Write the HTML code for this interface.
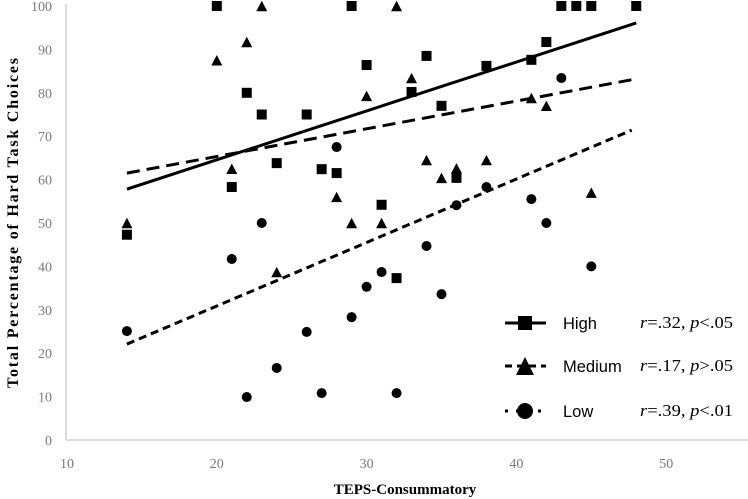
<!DOCTYPE html>
<html><head><meta charset="utf-8"><style>
html,body{margin:0;padding:0;background:#fff;}
svg{display:block;}
</style></head><body>
<svg id="chart" width="748" height="499" xmlns="http://www.w3.org/2000/svg"></svg>
<script>
const xTicks = [10, 20, 30, 40, 50];
const yTicks = [0, 10, 20, 30, 40, 50, 60, 70, 80, 90, 100];
const highX = [14,20,21,22,23,24,26,27,28,29,30,31,32,33,34,35,36,38,41,42,43,44,45,48];
const highY = [47.3,100,58.3,80,75,63.8,75,62.4,61.5,100,86.4,54.2,37.3,80.2,88.5,77,60.4,86.2,87.6,91.7,100,100,100,100];
const medX = [14,20,21,22,23,24,28,29,30,31,32,33,34,35,36,38,41,42,45];
const medY = [50,87.5,62.5,91.7,100,38.7,56,50,79.3,50,100,83.4,64.5,60.4,62.6,64.5,78.8,77,57];
const lowX = [14,21,22,23,24,26,27,28,29,30,31,32,34,35,36,38,41,42,43,45];
const lowY = [25.1,41.7,9.9,50,16.6,24.9,10.8,67.5,28.3,35.3,38.7,10.8,44.7,33.6,54.1,58.3,55.5,50,83.4,40];
const trendX = [14, 48];
const highTrend = [57.8, 96.1];
const medTrend = [61.5, 83.2];
const lowTrend = [22.1, 71.4];

const NS = "http://www.w3.org/2000/svg";
const svg = document.getElementById('chart');
function sx(v){ return 67 + (v - 10) * 14.98; }
function sy(v){ return 440 - v * 4.34; }
function mk(tag, attrs, parent){
  const e = document.createElementNS(NS, tag);
  for (const k in attrs) e.setAttribute(k, attrs[k]);
  (parent || svg).appendChild(e);
  return e;
}
let ax = mk('line', {x1:66, y1:4, x2:66, y2:440, stroke:'#d0d0d0', 'stroke-width':1.5});


ax = mk('line', {x1:66, y1:440, x2:748, y2:440, stroke:'#d0d0d0', 'stroke-width':1.5});


yTicks.forEach(v => {
  const t = mk('text', {x:52, y:sy(v)+5, 'text-anchor':'end', 'font-family':'Liberation Serif, serif', 'font-size':14, fill:'#7a7a7a'});
  t.textContent = v;
  
  
});
xTicks.forEach(v => {
  const t = mk('text', {x:sx(v), y:468, 'text-anchor':'middle', 'font-family':'Liberation Serif, serif', 'font-size':14, fill:'#7a7a7a'});
  t.textContent = v;
  
  
});
let tt = mk('text', {x:405, y:494, 'text-anchor':'middle', 'font-family':'Liberation Serif, serif', 'font-size':15, 'font-weight':'bold'});
tt.textContent = 'TEPS-Consummatory';


tt = mk('text', {x:0, y:0, transform:'translate(18,223) rotate(-90)', 'text-anchor':'middle', 'font-family':'Liberation Serif, serif', 'font-size':16, 'font-weight':'bold', textLength:330, lengthAdjust:'spacing'});
tt.textContent = 'Total Percentage of Hard Task Choices';



function square(x, y, s, name){
  const e = mk('rect', {x:x-s/2, y:y-s/2, width:s, height:s, fill:'#000'});
  
  
}
function tri(x, y, s, name){
  const h = s*0.95;
  const e = mk('polygon', {points:`${x},${y-h/2} ${x-s/2},${y+h/2} ${x+s/2},${y+h/2}`, fill:'#000'});
  
  
}
function circ(x, y, s, name){
  const e = mk('circle', {cx:x, cy:y, r:s/2, fill:'#000'});
  
  
}
highX.forEach((v,i) => square(sx(v), sy(highY[i]), 10, 'high-point'));
medX.forEach((v,i) => tri(sx(v), sy(medY[i]), 11, 'medium-point'));
lowX.forEach((v,i) => circ(sx(v), sy(lowY[i]), 10, 'low-point'));

let tl = mk('line', {x1:sx(trendX[0]), y1:sy(highTrend[0]), x2:sx(trendX[1]), y2:sy(highTrend[1]), stroke:'#000', 'stroke-width':3});


tl = mk('line', {x1:sx(trendX[0]), y1:sy(medTrend[0]), x2:sx(trendX[1]), y2:sy(medTrend[1]), stroke:'#000', 'stroke-width':3, 'stroke-dasharray':'13,7'});


tl = mk('line', {x1:sx(trendX[0]), y1:sy(lowTrend[0]), x2:sx(trendX[1]-0.3), y2:sy(lowTrend[1]), stroke:'#000', 'stroke-width':3, 'stroke-dasharray':'8,5'});



const legLabels = ['High', 'Medium', 'Low'];
const legStats = [['.32','<','.05'], ['.17','>','.05'], ['.39','<','.01']];
const legY = [323, 366, 411];
const legDash = ['none', '7,5', '3,8'];
legLabels.forEach((lab, i) => {
  const g = mk('g', {});
  
  
  mk('line', {x1:505, y1:legY[i], x2:546, y2:legY[i], stroke:'#000', 'stroke-width':3, 'stroke-dasharray':legDash[i]}, g);
  if (i === 0) mk('rect', {x:518, y:legY[i]-7, width:14, height:14, fill:'#000'}, g);
  if (i === 1) mk('polygon', {points:`525,${legY[i]-9} 516,${legY[i]+9} 534,${legY[i]+9}`, fill:'#000'}, g);
  if (i === 2) mk('circle', {cx:525, cy:legY[i], r:8, fill:'#000'}, g);
  const t = mk('text', {x:563, y:legY[i]+6, 'font-family':'Liberation Sans, sans-serif', 'font-size':16.5}, g);
  t.textContent = lab;
  const s = mk('text', {x:640, y:legY[i]+5, 'font-family':'Liberation Serif, serif', 'font-size':17, textLength:93, lengthAdjust:'spacingAndGlyphs'}, g);
  s.innerHTML = '<tspan font-style="italic">r</tspan>=' + legStats[i][0] + ', <tspan font-style="italic">p</tspan>' + (legStats[i][1]==='<'?'&lt;':'&gt;') + legStats[i][2];
});
</script>
</body></html>
